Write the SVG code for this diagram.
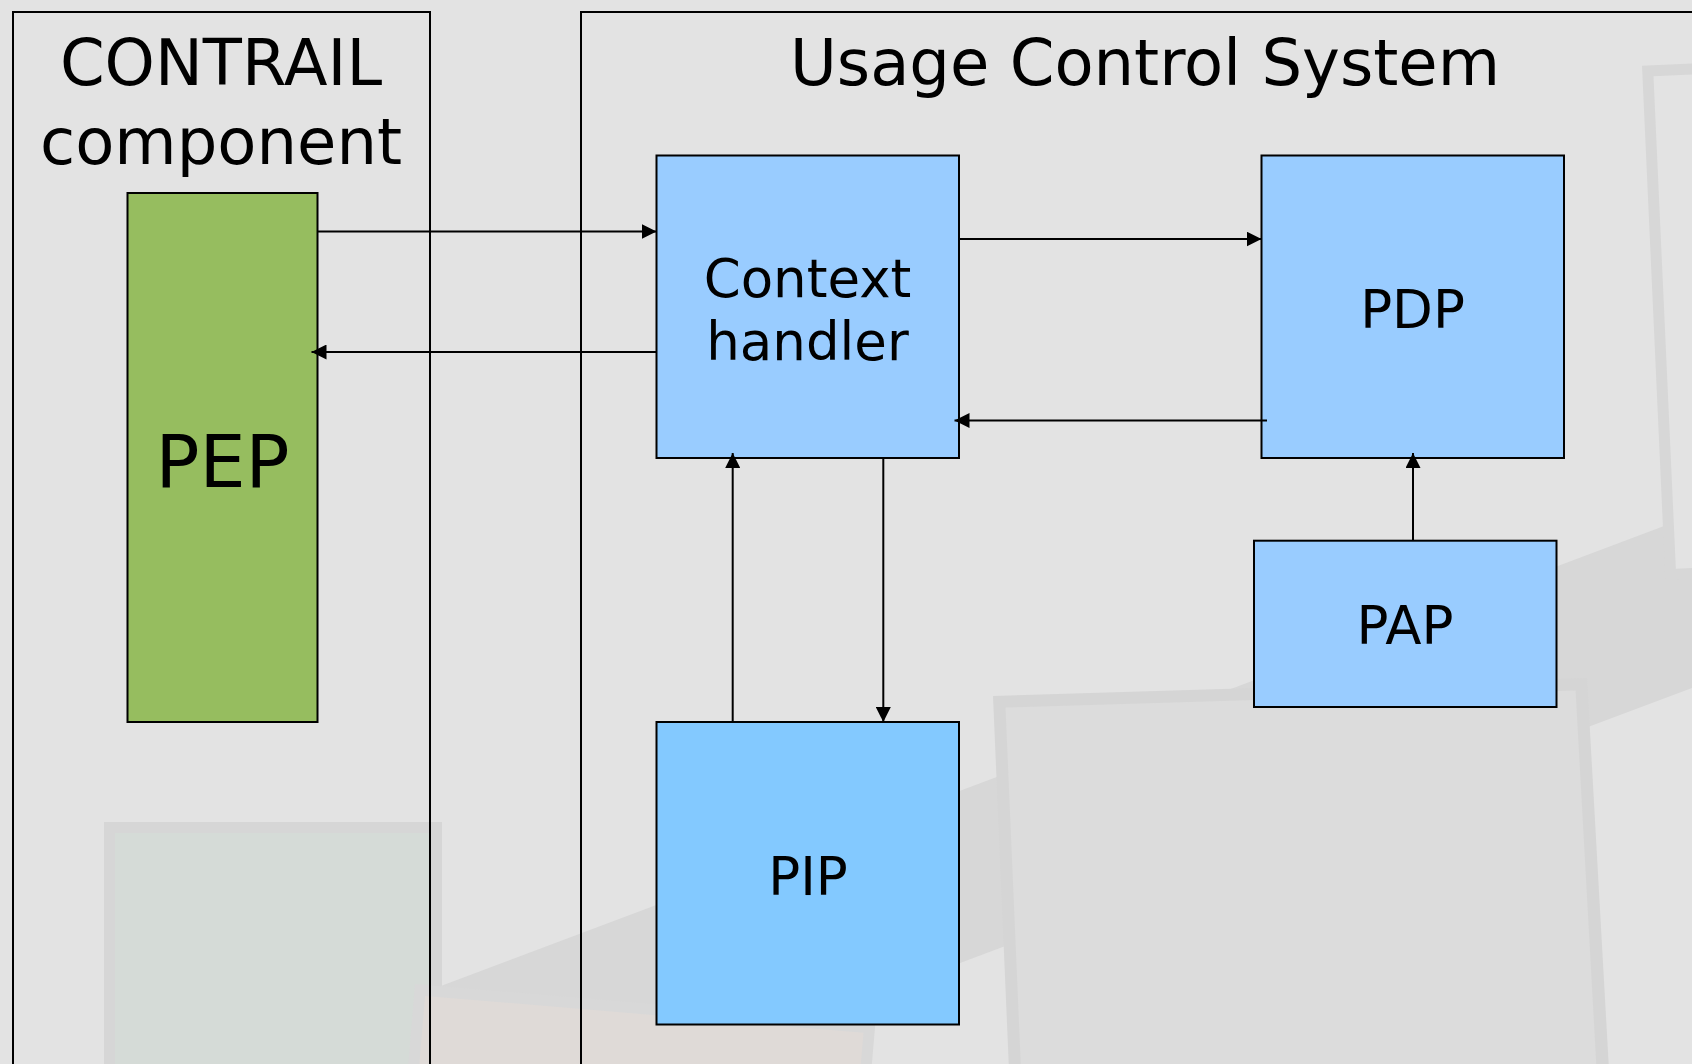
<svg xmlns="http://www.w3.org/2000/svg" width="1692" height="1064" viewBox="0 0 1692 1064">
<style>
.lbl{font-family:"DejaVu Sans","Liberation Sans",sans-serif;fill:#000;text-anchor:middle}
.box{stroke:#000;stroke-width:2}
.cont{fill:none;stroke:#000;stroke-width:2}
.conn{stroke:#000;stroke-width:2;fill:none}
.frame{stroke-width:11}
</style>
<defs>
<marker id="arr" markerUnits="userSpaceOnUse" markerWidth="15" markerHeight="15" refX="15" refY="7.5" orient="auto">
<path d="M0,0 L15,7.5 L0,15 z" fill="#000"/>
</marker>
</defs>
<g id="background">
<rect x="0" y="0" width="1692" height="1064" fill="#e3e3e3"/>
<polygon points="300,1039 1692,515.6 1692,688 300,1211" fill="#d7d7d7"/>
<rect class="frame" x="1647.5" y="71.2" width="200" height="504" fill="#e3e3e3" stroke="#d7d7d7" transform="rotate(-2.6 1642 65.7)"/>
<polygon points="993,696 1587,678 1609,1070 1009,1070" fill="#d5d5d5"/>
<polygon points="1005.5,707.6 1575.6,690.4 1596.6,1070 1021,1070" fill="#dcdcdc"/>
<rect class="frame" x="109.5" y="827.5" width="327" height="300" fill="#d5dbd7" stroke="#d6d6d6"/>
<rect class="frame" x="420.5" y="989.5" width="451" height="200" fill="#dfdad7" stroke="#d8d8d8" transform="rotate(4.8 415 984)"/>
</g>
<g id="contrail-component">
<rect class="cont" x="13" y="12" width="417" height="1100"/>
<text class="lbl" font-size="64" x="221" y="85">CONTRAIL</text>
<text class="lbl" font-size="64" x="221" y="163.5">component</text>
</g>
<g id="usage-control-system">
<rect class="cont" x="581" y="12" width="1200" height="1100"/>
<text class="lbl" font-size="64" x="1145" y="85">Usage Control System</text>
</g>
<g id="pep">
<rect class="box" x="127.5" y="193" width="190" height="529" fill="#96bd5f"/>
<text class="lbl" font-size="73" x="222.5" y="487">PEP</text>
</g>
<g id="context-handler">
<rect class="box" x="656.5" y="155.5" width="302.5" height="302.5" fill="#99ccff"/>
<text class="lbl" font-size="53" x="807.5" y="296.5">Context</text>
<text class="lbl" font-size="53" x="807.5" y="360">handler</text>
</g>
<g id="pdp">
<rect class="box" x="1261.5" y="155.5" width="302.5" height="302.5" fill="#99ccff"/>
<text class="lbl" font-size="53" x="1412.5" y="328">PDP</text>
</g>
<g id="pap">
<rect class="box" x="1254" y="540.7" width="302.5" height="166.3" fill="#99ccff"/>
<text class="lbl" font-size="53" x="1405" y="644">PAP</text>
</g>
<g id="pip">
<rect class="box" x="656.5" y="722" width="302.5" height="302.5" fill="#83c9ff"/>
<text class="lbl" font-size="53" x="808" y="895">PIP</text>
</g>
<g id="connectors">
<line class="conn" x1="318" y1="231.5" x2="656.5" y2="231.5" marker-end="url(#arr)"/>
<line class="conn" x1="656.5" y1="352" x2="311.5" y2="352" marker-end="url(#arr)"/>
<line class="conn" x1="959" y1="239" x2="1261.5" y2="239" marker-end="url(#arr)"/>
<line class="conn" x1="1267" y1="420.5" x2="954.5" y2="420.5" marker-end="url(#arr)"/>
<line class="conn" x1="732.7" y1="722" x2="732.7" y2="453" marker-end="url(#arr)"/>
<line class="conn" x1="883.3" y1="458" x2="883.3" y2="722" marker-end="url(#arr)"/>
<line class="conn" x1="1413" y1="540.7" x2="1413" y2="453" marker-end="url(#arr)"/>
</g>
</svg>
